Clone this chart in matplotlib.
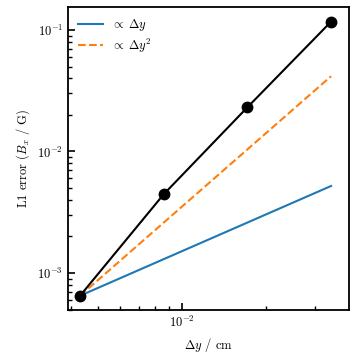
import numpy as np
import matplotlib
matplotlib.use("Agg")
import matplotlib.pyplot as plt

plt.rcParams['font.family'] = 'serif'
plt.rcParams['font.serif'] = ['cmr10']
plt.rcParams['mathtext.fontset'] = 'cm'
plt.rcParams['axes.formatter.use_mathtext'] = True
plt.rcParams['font.size'] = 9

# grid spacing and L1 error
dy = [0.0043, 0.0086, 0.0172, 0.0344]
err = [0.00065, 0.00445, 0.0231, 0.117]

dy_arr = np.array(dy)
ref1 = err[0] * dy_arr / dy[0]
ref2 = err[0] * (dy_arr / dy[0])**2

fig = plt.figure(figsize=(3.57, 3.57), dpi=100)
ax = fig.add_axes([0.1905, 0.1317, 0.787, 0.8487])

ax.plot(dy, ref1, color='tab:blue', lw=1.5, label=r'$\propto\;\Delta y$')
ax.plot(dy, ref2, color='tab:orange', lw=1.5, ls='--', label=r'$\propto\;\Delta y^2$')
ax.plot(dy, err, color='k', lw=1.5, marker='o', ms=7.5)

ax.set_xscale('log')
ax.set_yscale('log')
ax.set_xlim(3.89e-3, 0.0399)
ax.set_ylim(4.96e-4, 0.1545)

ax.set_xlabel(r'$\Delta y$ / cm')
ax.set_ylabel(r'L1 error ($B_x$ / G)')

ax.tick_params(which='both', direction='in')
ax.tick_params(which='major', length=5, width=1.2)
ax.tick_params(which='minor', length=3, width=1.0)
for s in ax.spines.values():
    s.set_linewidth(1.3)

ax.legend(loc='upper left', frameon=False, labelspacing=0.3,
          handletextpad=0.6, borderaxespad=0.4)

plt.savefig('out.png', dpi=100)
